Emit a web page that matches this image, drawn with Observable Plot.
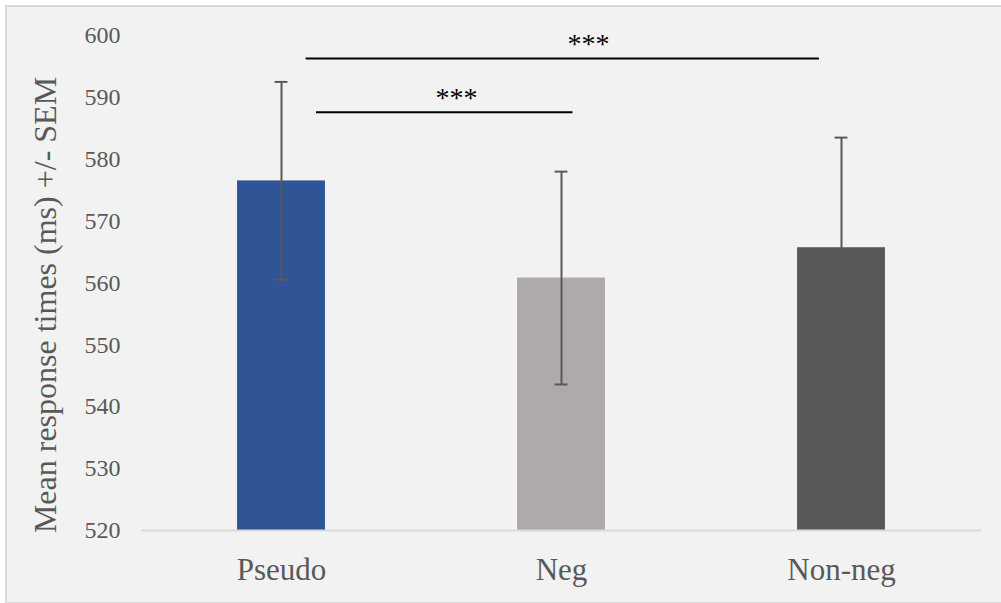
<!DOCTYPE html>
<html>
<head>
<meta charset="utf-8">
<script src="https://cdn.jsdelivr.net/npm/d3@7"></script>
<script src="https://cdn.jsdelivr.net/npm/@observablehq/plot@0.6"></script>
<style>
  html, body { margin: 0; padding: 0; background: #ffffff; width: 1001px; height: 603px; overflow: hidden; }
  #frame { position: absolute; left: 5px; top: 5px; width: 1000px; height: 595px; background: #f2f2f2; border: 2px solid #d9d9d9; }
  #chart { position: absolute; left: 0; top: 0; }
  #chart svg text { font-family: 'Liberation Serif', 'Times New Roman', serif; }
</style>
</head>
<body>
<div id="frame"></div>
<div id="chart"></div>
<script>
// Data
const categories = ["Pseudo", "Neg", "Non-neg"];
const means = [576.5, 560.8, 565.7];
const sems = [16.0, 17.2, 17.8];
const barColors = ["#2f5597", "#aeaaaa", "#595959"];
const yTicks = [520, 530, 540, 550, 560, 570, 580, 590, 600];
// Significance brackets: [from, to] in category index units, level, label
const sigFrom = [0.088, 0.125];
const sigTo = [1.921, 1.041];
const sigLevel = [596.3, 587.6];
const sigLabelX = [1.096, 0.625];
const sigLabels = ["***", "***"];
const yLabel = "Mean response times (ms) +/- SEM";

const serif = "'Liberation Serif', 'Times New Roman', serif";
const barHalf = 0.157;
const capHalf = 0.023;

const bars = categories.map((c, i) => ({
  i, c, mean: means[i], lo: means[i] - sems[i], hi: means[i] + sems[i], color: barColors[i]
}));
const sigs = sigFrom.map((f, k) => ({ f, t: sigTo[k], y: sigLevel[k], lx: sigLabelX[k], label: sigLabels[k] }));
const caps = bars.flatMap(b => [{ i: b.i, y: b.lo }, { i: b.i, y: b.hi }]);

const chart = Plot.plot({
  width: 1001,
  height: 603,
  marginLeft: 141,
  marginRight: 20,
  marginTop: 35,
  marginBottom: 73,
  style: { background: "transparent", color: "#595959", fontFamily: serif },
  x: { type: "linear", domain: [-0.5, 2.5] },
  y: { domain: [520, 600] },
  marks: [
    Plot.axisY({ ticks: yTicks, tickSize: 0, tickPadding: 21, fontSize: 24, fontFamily: serif, label: null }),
    Plot.axisX({ ticks: [0, 1, 2], tickFormat: d => categories[d], tickSize: 0, tickPadding: 27, fontSize: 31, fontFamily: serif, label: null }),
    Plot.rect(bars, { x1: d => d.i - barHalf, x2: d => d.i + barHalf, y1: () => 520, y2: "mean", fill: "color" }),
    Plot.ruleY([520], { stroke: "#d9d9d9", strokeWidth: 2 }),
    Plot.ruleX(bars, { x: "i", y1: "lo", y2: "hi", stroke: "#595959", strokeWidth: 2 }),
    Plot.ruleY(caps, { y: "y", x1: d => d.i - capHalf, x2: d => d.i + capHalf, stroke: "#595959", strokeWidth: 2 }),
    Plot.ruleY(sigs, { y: "y", x1: "f", x2: "t", stroke: "#000000", strokeWidth: 2 }),
    Plot.text(sigs, { x: "lx", y: "y", text: "label", fill: "#000000", fontSize: 28, fontFamily: serif, dy: -14 }),
    Plot.text([yLabel], { frameAnchor: "left", textAnchor: "middle", rotate: -90, dx: -96, dy: 22, fontSize: 32, fontFamily: serif, fill: "#595959" })
  ]
});
document.getElementById("chart").appendChild(chart);
</script>
</body>
</html>
